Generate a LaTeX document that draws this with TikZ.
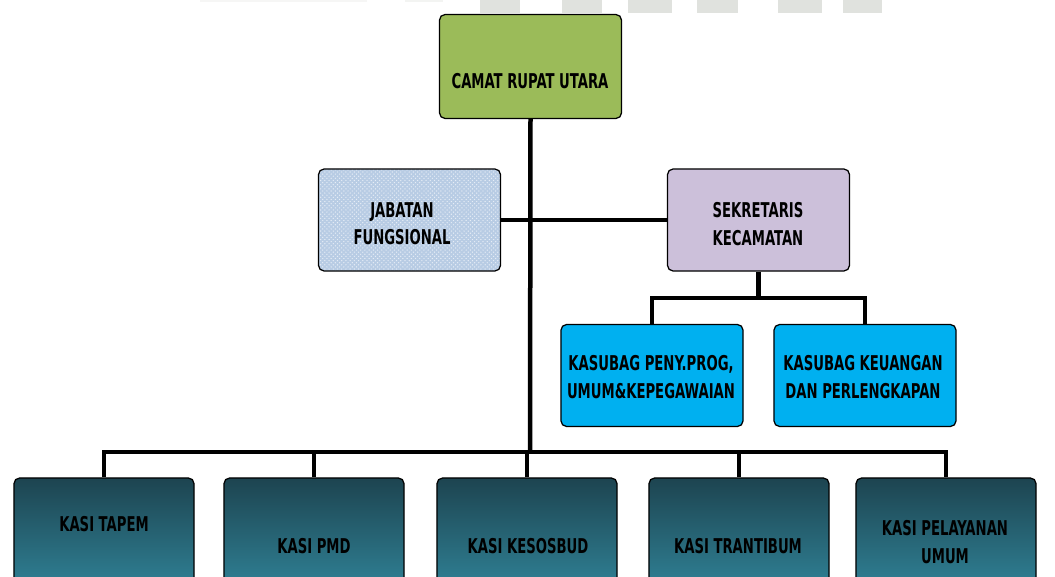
\documentclass[tikz,border=0pt]{standalone}
\usepackage{fontspec}
\setmainfont{DejaVu Sans Condensed}[FakeStretch=0.72]
\usetikzlibrary{arrows, calc, patterns, shapes}
\definecolor{camatgreen}{RGB}{155,187,89}
\definecolor{jabblue}{RGB}{184,204,228}
\definecolor{seklilac}{RGB}{204,192,218}
\definecolor{subcyan}{RGB}{0,176,240}
\definecolor{kasitop}{RGB}{29,68,80}
\definecolor{kasibot}{RGB}{49,134,155}
\definecolor{wmark}{RGB}{224,226,222}

\begin{document}
\begin{tikzpicture}[x=0.025cm, y=0.025cm]
\tikzstyle{every node}+=[inner sep=0pt, font=\bfseries\fontsize{14.5}{19.5}\selectfont, align=center]
\tikzstyle{box}=[draw=black, line width=0.9pt, rounded corners=4pt, minimum width=4.55cm, minimum height=2.55cm]
\tikzstyle{kasibox}=[box, top color=kasitop, bottom color=kasibot, minimum width=4.5cm, minimum height=3cm]
\tikzstyle{link}=[black, line width=3.2pt]
\useasboundingbox (0,0) rectangle (1055,-577);
\fill [wmark!30] (200,0) rectangle (367,-2);
\fill [wmark!40] (405,0) rectangle (443,-2);
\fill [wmark] (480,0) rectangle (520,-13);
\fill [wmark] (562,0) rectangle (602,-13);
\fill [wmark] (628,0) rectangle (672,-13);
\fill [wmark] (697,0) rectangle (738,-13);
\fill [wmark] (778,0) rectangle (822,-13);
\fill [wmark] (843,0) rectangle (882,-13);
\node [box, fill=camatgreen, minimum height=2.6cm] (camat) at (530.5,-66.5) {};
\node (camattext) at (530,-81) {CAMAT RUPAT UTARA};
\node [box, preaction={fill=jabblue}, pattern=crosshatch dots, pattern color=white!65!jabblue] (jabatan) at (409.5,-220) {};
\node (jabatantext) at (402,-224) {JABATAN\\FUNGSIONAL};
\node [box, fill=seklilac] (sekretaris) at (758.5,-220) {};
\node (sekretaristext) at (758,-224) {SEKRETARIS\\KECAMATAN};
\node [box, fill=subcyan] (kasubagumum) at (652,-375.5) {};
\node (kasubagumumtext) at (651,-377) {KASUBAG PENY.PROG,\\UMUM\&KEPEGAWAIAN};
\node [box, fill=subcyan] (kasubaguang) at (865,-375.5) {};
\node (kasubaguangtext) at (863,-377) {KASUBAG KEUANGAN\\DAN PERLENGKAPAN};
\node [kasibox] (tapem) at (104,-538) {};
\node (tapemtext) at (104,-524) {KASI TAPEM};
\node [kasibox] (pmd) at (314,-538) {};
\node (pmdtext) at (314,-546) {KASI PMD};
\node [kasibox] (kesosbud) at (527,-538) {};
\node (kesosbudtext) at (528,-546) {KASI KESOSBUD};
\node [kasibox] (trantibum) at (739,-538) {};
\node (trantibumtext) at (738,-546) {KASI TRANTIBUM};
\node [kasibox] (pelayanan) at (946,-538) {};
\node (pelayanantext) at (945,-542) {KASI PELAYANAN\\UMUM};
\coordinate (bus) at (530,-452);
\coordinate (sekbus) at (758.5,-298);
\draw [link] (camat.south) -- (bus);
\draw [link] (jabatan.east) -- (sekretaris.west);
\draw [link] (sekretaris.south) -- (sekbus);
\draw [link] (kasubagumum.north) |- (sekbus) -| (kasubaguang.north);
\draw [link] (tapem.north) |- (bus) -| (pelayanan.north);
\foreach \n in {pmd, kesosbud, trantibum}
  \draw [link] (\n.north) -- (\n.north |- bus);
\end{tikzpicture}
\end{document}
